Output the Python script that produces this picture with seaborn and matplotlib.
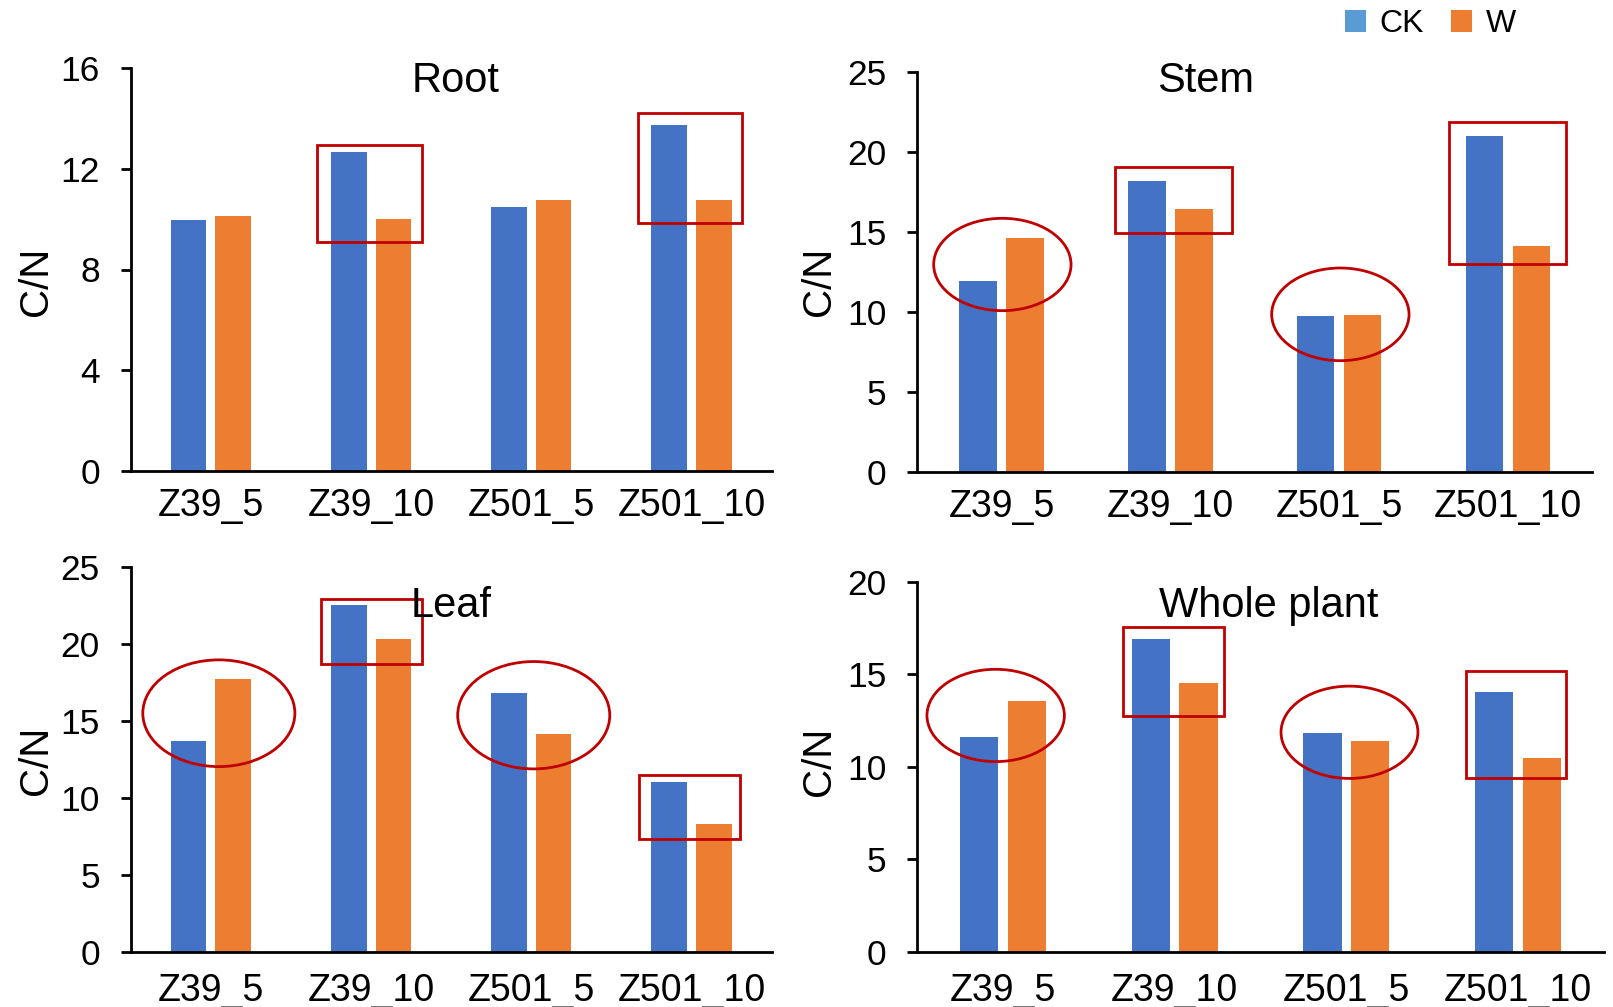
import matplotlib
matplotlib.use("Agg")
import matplotlib.pyplot as plt
import seaborn as sns
import pandas as pd
from matplotlib.patches import Rectangle, Ellipse, Patch

# ---------------- data ----------------
categories = ["Z39_5", "Z39_10", "Z501_5", "Z501_10"]
treatments = ["CK", "W"]

root_ck = [9.96, 12.68, 10.49, 13.73]
root_w = [10.12, 10.00, 10.75, 10.78]
stem_ck = [11.92, 18.18, 9.73, 21.01]
stem_w = [14.65, 16.44, 9.81, 14.11]
leaf_ck = [13.68, 22.50, 16.79, 11.04]
leaf_w = [17.74, 20.31, 14.17, 8.34]
whole_ck = [11.62, 16.89, 11.84, 14.04]
whole_w = [13.57, 14.51, 11.37, 10.47]

panel_titles = ["Root", "Stem", "Leaf", "Whole plant"]
y_max = [16, 25, 25, 20]
y_step = [4, 5, 5, 5]

# highlight marks: boxes (category, dx0, dx1, y0, y1), ellipses (category, dx, width, yc, height)
root_boxes = [(1, -0.339, 0.317, 9.08, 12.95), (3, -0.335, 0.316, 9.84, 14.23)]
root_ellipses = []
stem_boxes = [(1, -0.33, 0.364, 14.96, 19.05), (3, -0.352, 0.345, 12.98, 21.91)]
stem_ellipses = [(0, 0.004, 0.814, 12.97, 5.78), (2, 0.007, 0.814, 9.85, 5.80)]
leaf_boxes = [(1, -0.31, 0.317, 18.71, 22.89), (3, -0.326, 0.301, 7.33, 11.48)]
leaf_ellipses = [(0, 0.05, 0.949, 15.50, 6.92), (2, 0.015, 0.949, 15.37, 6.96)]
whole_boxes = [(1, -0.30, 0.285, 12.76, 17.57), (3, -0.306, 0.277, 9.37, 15.17)]
whole_ellipses = [(0, -0.042, 0.80, 12.77, 4.99), (2, 0.018, 0.797, 11.86, 4.99)]

# ---------------- style ----------------
sns.set_style("white")
plt.rcParams["font.family"] = ["Liberation Sans", "DejaVu Sans"]
for key in ["text.color", "axes.labelcolor", "xtick.color", "ytick.color", "axes.edgecolor"]:
    plt.rcParams[key] = "black"

W, H = 1613, 1007
fig = plt.figure(figsize=(W / 100, H / 100), dpi=100)

bar_colors = {"CK": "#4472C4", "W": "#ED7D31"}
legend_colors = {"CK": "#5B9BD5", "W": "#ED7D31"}
red = "#C00000"

# axes rectangles in pixels: left, right, top, bottom
boxes_px = [
    (130.7, 771.7, 68.3, 470.7),
    (917.3, 1592.3, 72.3, 471.7),
    (130.7, 771.7, 566.7, 952.3),
    (917.0, 1604.0, 581.7, 951.7),
]
title_px = [(455.4, 91.7), (1205.7, 91.7), (451.5, 616.7), (1269.0, 616.7)]
ylabel_px = [(36, 281), (819, 281), (36, 760), (819, 761)]
xpad = [12.5, 12.5, 15.0, 15.0]

series = [(root_ck, root_w), (stem_ck, stem_w), (leaf_ck, leaf_w), (whole_ck, whole_w)]
marks = [(root_boxes, root_ellipses), (stem_boxes, stem_ellipses),
         (leaf_boxes, leaf_ellipses), (whole_boxes, whole_ellipses)]

for i in range(4):
    l, r, t, b = boxes_px[i]
    ax = fig.add_axes([l / W, 1 - b / H, (r - l) / W, (b - t) / H])
    ck, w = series[i]
    df = pd.DataFrame({
        "Group": categories * 2,
        "Treatment": ["CK"] * 4 + ["W"] * 4,
        "CN": list(ck) + list(w),
    })
    sns.barplot(data=df, x="Group", y="CN", hue="Treatment", order=categories,
                hue_order=treatments, palette=bar_colors, width=0.556, gap=0.2,
                saturation=1, linewidth=0, errorbar=None, legend=False, ax=ax)
    ax.set_xlim(-0.5, 3.5)
    ax.set_ylim(0, y_max[i])
    ax.set_yticks(range(0, y_max[i] + 1, y_step[i]))
    ax.set_xlabel("")
    ax.set_ylabel("")
    for s in ["top", "right"]:
        ax.spines[s].set_visible(False)
    for s in ["left", "bottom"]:
        ax.spines[s].set_linewidth(2.0)
        ax.spines[s].set_color("black")
    ax.set_xticks([k - 0.5 for k in range(5)], minor=True)
    ax.tick_params(axis="x", which="major", length=0, labelsize=27, pad=xpad[i])
    ax.tick_params(axis="x", which="minor", length=7.2, width=2.0, direction="out", color="black")
    ax.tick_params(axis="y", which="major", length=7.2, width=2.0, direction="out",
                   labelsize=25.5, pad=15, color="black", left=True)
    ax.set_facecolor("white")

    bx, el = marks[i]
    for (c, d0, d1, y0, y1) in bx:
        ax.add_patch(Rectangle((c + d0, y0), d1 - d0, y1 - y0, fill=False,
                               edgecolor=red, linewidth=2.0, clip_on=False, zorder=5))
    for (c, dx, ew, yc, eh) in el:
        ax.add_patch(Ellipse((c + dx, yc), ew, eh, fill=False,
                             edgecolor=red, linewidth=2.0, clip_on=False, zorder=5))

    tx, ty = title_px[i]
    fig.text(tx / W, 1 - ty / H, panel_titles[i], fontsize=30, ha="center", va="baseline")
    lx, ly = ylabel_px[i]
    fig.text(lx / W, 1 - ly / H, "C/N", fontsize=29, rotation=90, ha="center", va="center")

handles = [Patch(facecolor=legend_colors[k], edgecolor="none", label=k) for k in treatments]
fig.legend(handles=handles, loc="center left", bbox_to_anchor=(1345 / W, 1 - 23.8 / H),
           ncol=2, frameon=False, fontsize=23, handlelength=0.65, handleheight=0.68,
           handletextpad=0.44, columnspacing=0.84, borderpad=0, borderaxespad=0)

fig.savefig("out.png", dpi=100, facecolor="white")
